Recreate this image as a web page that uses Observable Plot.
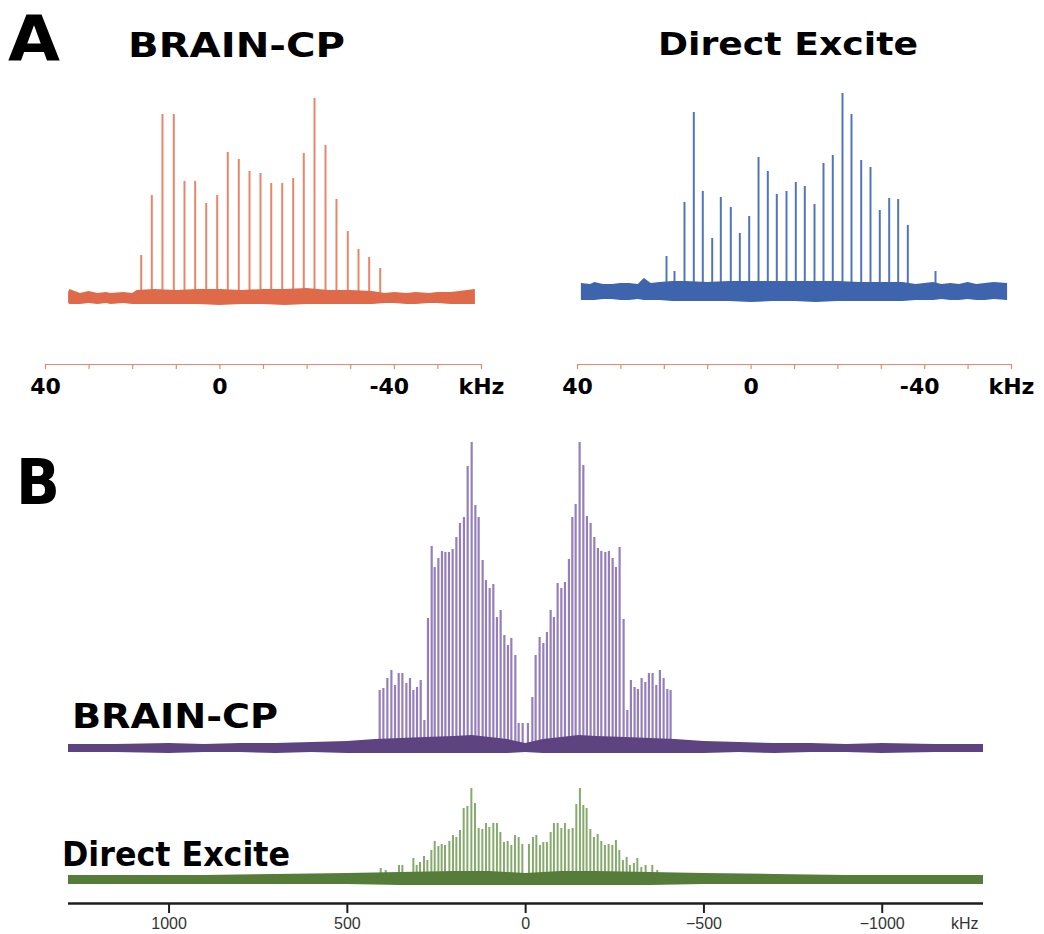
<!DOCTYPE html>
<html>
<head>
<meta charset="utf-8">
<script src="https://cdn.jsdelivr.net/npm/d3@7"></script>
<script src="https://cdn.jsdelivr.net/npm/@observablehq/plot@0.6"></script>
<style>
  body { margin: 0; background: #fff; }
  #fig { position: relative; width: 1044px; height: 934px; overflow: hidden; background: #fff; }
  #fig svg { position: absolute; }
</style>
</head>
<body>
<div id="fig"></div>
<script>
// ---------- Panel A: 60 kHz-window spectra (shift in kHz, intensity in a.u.) ----------
const cpShiftA = [18.05, 15.62, 13.17, 10.57, 8.12, 5.67, 3.14, 0.62, -1.81, -4.33, -6.79, -9.31,
  -11.77, -14.29, -16.81, -19.24, -21.70, -24.22, -26.74, -29.33, -31.79, -34.24, -36.77];
const cpIntensityA = [43, 103, 184, 184, 117, 117, 95, 103, 146, 139, 127, 125,
  115, 115, 120, 145, 200, 153, 99, 67, 49, 41, 30];
const cpNoiseShiftA = [34.7, 34.4, 32, 30, 28, 26, 25, 22, 20, 19, 15, 10, 5, 0, -5, -10, -15, -20, -25, -30, -35, -38, -40, -43, -45, -48, -50, -53, -55, -58.6];
const cpNoiseLowA  = [-5, -6, -6, -5, -6, -5, -6, -5, -6, -6, -6, -6, -6, -7, -6, -6, -7, -6, -6, -6, -6, -5, -5, -6, -6, -5, -5, -6, -6, -6];
const cpNoiseHighA = [6, 9, 5, 7, 5, 6, 5, 6, 5, 8, 9, 8, 9, 9, 8, 9, 9, 10, 8, 8, 7, 5, 6, 5, 6, 5, 6, 6, 7, 9];

const deShiftA = [19.49, 17.65, 15.35, 13.20, 11.13, 8.96, 6.98, 4.68, 2.60, 0.44, -1.71, -3.85, -5.92, -8.16,
  -10.30, -12.37, -14.61, -16.68, -18.82, -21.06, -23.13, -25.37, -27.51, -29.65, -31.82, -33.89, -36.11, -42.49];
const deIntensityA = [36, 21, 90, 180, 101, 54, 95, 85, 59, 76, 135, 121, 98, 101,
  110, 106, 88, 129, 137, 199, 178, 132, 125, 82, 94, 93, 67, 21];
const deNoiseShiftA = [39.1, 37, 36, 34, 32, 30, 28, 26, 24.6, 23, 21, 18, 15, 10, 5, 0, -5, -10, -15, -20, -25, -30, -35, -38, -40, -42, -44, -46, -48, -50, -52, -54, -56, -59.1];
const deNoiseLowA  = [-8, -8, -8, -7, -7, -8, -8, -7, -8, -8, -8, -9, -9, -9, -9, -10, -9, -9, -10, -9, -9, -9, -9, -8, -8, -8, -7, -8, -8, -7, -8, -8, -7, -8];
const deNoiseHighA = [9, 8, 10, 8, 8, 9, 9, 8, 14, 9, 10, 11, 11, 10, 11, 11, 11, 11, 11, 11, 10, 10, 10, 8, 9, 10, 8, 9, 8, 10, 8, 9, 10, 9];

const kHzDomainA = [40, -60];
const tickValuesA = [40, 30, 20, 10, 0, -10, -20, -30, -40, -50, -60];
const tickLabelsA = ["40", "0", "-40", "kHz"];
const tickLabelAtA = [40, 0, -40, -60];

// ---------- Panel B: full sideband manifold ----------
const cpShiftB = [409.3, 399.0, 387.8, 376.5, 366.4, 356.0, 345.7, 334.5, 324.4, 314.9,
  304.7, 294.3, 284.0, 273.9, 263.5, 255.1, 244.7, 234.6, 225.1, 215.0,
  204.7, 194.3, 184.2, 173.0, 162.6, 151.4, 141.0, 131.8, 120.6, 111.3,
  100.9, 90.6, 80.5, 70.1, 59.7, 49.6, 40.1, 28.9, 19.6, 8.4,
  -6.4, -18.8, -28.0, -39.2, -49.6, -59.7, -70.1, -79.3, -89.7, -100.1,
  -110.2, -121.4, -130.9, -140.2, -151.4, -161.8, -171.9, -182.2, -192.6, -202.7,
  -212.2, -223.4, -233.5, -243.9, -253.2, -263.5, -274.7, -285.1, -295.2, -305.5,
  -314.8, -325.2, -335.6, -345.7, -356.0, -366.4, -376.5, -386.9, -397.3, -406.5];
const cpIntensityB = [58, 60, 70, 78, 63, 75, 75, 65, 70, 58,
  61, 68, 28, 130, 202, 181, 190, 197, 196, 196,
  199, 211, 225, 231, 282, 306, 243, 231, 188, 168,
  160, 164, 131, 138, 113, 103, 110, 93, 25, 25,
  25, 51, 93, 111, 105, 116, 138, 131, 165, 160,
  166, 189, 231, 244, 306, 283, 232, 225, 211, 200,
  197, 196, 197, 190, 181, 201, 129, 38, 68, 61,
  59, 70, 66, 75, 75, 63, 78, 70, 59, 58];
const cpNoiseShiftB = [1282, 1150, 1000, 900, 800, 700, 600, 500, 420, 350, 280, 200, 150, 100, 50, 0,
  -50, -100, -150, -200, -280, -350, -420, -500, -600, -700, -800, -900, -1000, -1150, -1284];
const cpNoiseLowB  = [-4, -4, -5, -4, -4, -5, -4, -5, -5, -5, -5, -5, -5, -5, -5, -4,
  -5, -5, -5, -5, -5, -5, -5, -5, -4, -5, -4, -4, -5, -4, -4];
const cpNoiseHighB = [4, 4, 5, 4, 5, 5, 6, 7, 9, 10, 11, 12, 13, 11, 9, 5,
  9, 11, 13, 12, 11, 10, 9, 7, 6, 5, 5, 4, 5, 4, 4];

const deShiftB = [406.5, 392.5, 355.2, 345.7, 314.8, 305.6, 296.3, 285.1, 275.6, 264.4,
  255.1, 244.7, 235.5, 226.2, 213.9, 203.8, 194.3, 184.2, 173.8, 163.4,
  152.2, 142.1, 131.8, 121.4, 111.3, 101.8, 90.6, 80.5, 70.9, 60.8,
  50.5, 40.1, 30.0, 19.6, 9.3, -9.3, -20.5, -30.0, -40.1, -49.6,
  -59.7, -70.1, -79.3, -89.7, -100.1, -110.2, -120.6, -131.8, -142.1, -152.2,
  -161.8, -171.0, -181.4, -191.5, -201.9, -212.2, -222.3, -232.7, -243.1, -253.2,
  -262.7, -272.8, -283.2, -292.4, -303.6, -313.2, -324.4, -336.4, -355.2, -369.2];
const deIntensityB = [11, 9, 14, 14, 21, 14, 17, 23, 19, 29,
  38, 33, 35, 34, 38, 44, 42, 49, 71, 73,
  91, 76, 51, 50, 56, 52, 56, 56, 47, 37,
  38, 34, 44, 42, 35, 35, 42, 44, 34, 37,
  37, 47, 56, 56, 51, 56, 50, 51, 75, 91,
  74, 71, 50, 42, 45, 38, 34, 35, 34, 39,
  29, 19, 22, 14, 16, 21, 12, 14, 14, 9];
const deNoiseShiftB = [1282, 1100, 900, 700, 500, 350, 200, 100, 0, -100, -200, -350, -500, -700, -900, -1100, -1284];
const deNoiseLowB  = [-5, -5, -5, -5, -5, -6, -6, -6, -6, -6, -6, -6, -5, -5, -5, -5, -5];
const deNoiseHighB = [4, 4, 4, 5, 6, 7, 8, 8, 6, 8, 8, 7, 6, 5, 4, 4, 4];

const kHzDomainB = [1282, -1284];
const tickValuesB = [1000, 500, 0, -500, -1000];

// ---------- drawing ----------
const fig = document.getElementById("fig");
const salmonAxis = "#e8896d";
const zip3 = (xs, a, b) => xs.map((x, i) => ({x, lo: a[i], hi: b[i]}));
const zip2 = (xs, ys) => xs.map((x, i) => ({x, y: ys[i]}));

function place(node, left, top) {
  node.style.left = left + "px";
  node.style.top = top + "px";
  fig.appendChild(node);
}

function panelA(p) {
  const labels = tickLabelsA.map((t, i) => ({t, x: tickLabelAtA[i]}));
  const textStyle = {y: p.floor, text: "t", dy: 22, fontSize: 22, fontWeight: "bold",
    fontFamily: "DejaVu Sans, sans-serif", fill: "#000"};
  return Plot.plot({
    width: p.width, height: 340,
    marginTop: 0, marginBottom: 36, marginLeft: p.marginLeft, marginRight: p.marginRight,
    x: {domain: kHzDomainA, axis: null},
    y: {domain: [p.floor, p.ceiling], axis: null},
    style: {background: "transparent", overflow: "visible"},
    marks: [
      Plot.ruleX(zip2(p.shift, p.intensity), {x: "x", y1: 0, y2: "y", stroke: p.line, strokeWidth: 2}),
      Plot.areaY(zip3(p.noiseShift, p.noiseLow, p.noiseHigh), {x: "x", y1: "lo", y2: "hi", fill: p.base}),
      Plot.ruleY([p.floor], {stroke: salmonAxis, strokeWidth: 1.2}),
      Plot.axisX({ticks: tickValuesA, tickSize: 5, stroke: salmonAxis, strokeWidth: 1.2,
        tickFormat: () => "", label: null}),
      Plot.text(labels.filter(d => !d.t.startsWith("-")), {x: "x", ...textStyle}),
      Plot.text(labels.filter(d => d.t.startsWith("-")), {x: "x", dx: -5, ...textStyle})
    ]
  });
}

place(panelA({
  width: 520, marginLeft: 45, marginRight: 39, floor: -66, ceiling: 238,
  shift: cpShiftA, intensity: cpIntensityA,
  noiseShift: cpNoiseShiftA, noiseLow: cpNoiseLowA, noiseHigh: cpNoiseHighA,
  line: "#e8866b", base: "#df6a4a"
}), 0, 60);

place(panelA({
  width: 524, marginLeft: 57, marginRight: 33, floor: -72, ceiling: 232,
  shift: deShiftA, intensity: deIntensityA,
  noiseShift: deNoiseShiftA, noiseLow: deNoiseLowA, noiseHigh: deNoiseHighA,
  line: "#5275ba", base: "#3e64ae"
}), 520, 60);

// BRAIN-CP, full width
place(Plot.plot({
  width: 1044, height: 330, marginTop: 0, marginBottom: 0, marginLeft: 68, marginRight: 61,
  x: {domain: kHzDomainB, axis: null},
  y: {domain: [-12, 318], axis: null},
  style: {background: "transparent", overflow: "visible"},
  marks: [
    Plot.ruleX(zip2(cpShiftB, cpIntensityB), {x: "x", y1: 0, y2: "y", stroke: "#957fbb", strokeWidth: 2.2}),
    Plot.areaY(zip3(cpNoiseShiftB, cpNoiseLowB, cpNoiseHighB), {x: "x", y1: "lo", y2: "hi", fill: "#5d4481"})
  ]
}), 0, 430);

// Direct excitation, full width, with the shared kHz axis
const fmtB = d3.format("d");
const axisTextB = {y: -24, dy: 20, fontSize: 16, fontFamily: "Liberation Sans, Arial, sans-serif", fill: "#333"};
place(Plot.plot({
  width: 1044, height: 174, marginTop: 0, marginBottom: 31, marginLeft: 68, marginRight: 61,
  x: {domain: kHzDomainB, axis: null},
  y: {domain: [-24, 119], axis: null},
  style: {background: "transparent", overflow: "visible"},
  marks: [
    Plot.ruleX(zip2(deShiftB, deIntensityB), {x: "x", y1: 0, y2: "y", stroke: "#85aa6b", strokeWidth: 2}),
    Plot.areaY(zip3(deNoiseShiftB, deNoiseLowB, deNoiseHighB), {x: "x", y1: "lo", y2: "hi", fill: "#567c3a"}),
    Plot.ruleY([-24], {stroke: "#1e1e1e", strokeWidth: 2.4}),
    Plot.axisX({ticks: tickValuesB, tickSize: 10, stroke: "#1e1e1e", strokeWidth: 2,
      tickFormat: () => "", label: null}),
    Plot.text(tickValuesB, {x: d => d, text: d => fmtB(d), ...axisTextB}),
    Plot.text(["kHz"], {x: () => kHzDomainB[1], text: d => d, dx: -5, textAnchor: "end", ...axisTextB})
  ]
}), 0, 760);

// Panel letters and spectrum titles
const headings = [
  {t: "A", x: 8, y: 60, size: 62, len: 52},
  {t: "BRAIN-CP", x: 128, y: 57, size: 34, len: 217},
  {t: "Direct Excite", x: 658, y: 55, size: 32, len: 260},
  {t: "B", x: 16, y: 504, size: 62, len: 44},
  {t: "BRAIN-CP", x: 72, y: 728, size: 34, len: 206},
  {t: "Direct Excite", x: 62, y: 866, size: 34, len: 228}
];
const overlay = d3.create("svg").attr("width", 1044).attr("height", 934)
  .style("left", "0px").style("top", "0px").style("pointer-events", "none");
overlay.selectAll("text").data(headings).join("text")
  .attr("x", d => d.x).attr("y", d => d.y)
  .attr("textLength", d => d.len).attr("lengthAdjust", "spacingAndGlyphs")
  .attr("font-family", "DejaVu Sans, sans-serif").attr("font-weight", "bold")
  .attr("font-size", d => d.size).attr("fill", "#000")
  .text(d => d.t);
fig.appendChild(overlay.node());
</script>
</body>
</html>
